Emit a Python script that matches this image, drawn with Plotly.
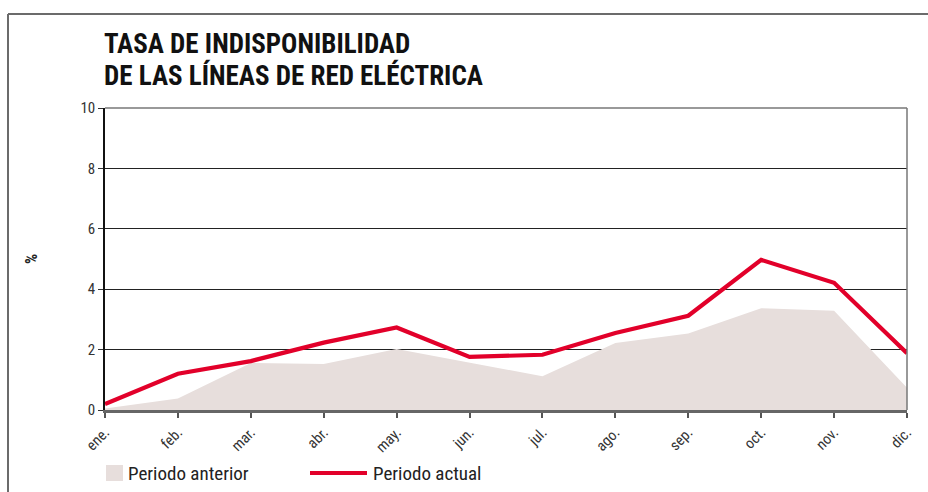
import plotly.graph_objects as go

# Monthly unavailability rate of Red Eléctrica lines (%)
meses = ["ene.", "feb.", "mar.", "abr.", "may.", "jun.",
         "jul.", "ago.", "sep.", "oct.", "nov.", "dic."]
periodo_anterior = [0.05, 0.38, 1.56, 1.52, 2.02, 1.56, 1.12, 2.22, 2.53, 3.37, 3.29, 0.74]
periodo_actual = [0.2, 1.2, 1.62, 2.23, 2.73, 1.76, 1.83, 2.55, 3.12, 4.97, 4.21, 1.88]
y_ticks = [0, 2, 4, 6, 8, 10]

W, H = 928, 492
L, R, T, B = 105, 21, 108, 82
PW, PH = W - L - R, H - T - B

NARROW = "Roboto Condensed, Liberation Sans Narrow, sans-serif"
RED = "#e2002a"
FILL = "#e7dedc"


def px_x(p):
    """Pixel column -> paper x."""
    return (p - L) / PW


def px_y(p):
    """Pixel row -> paper y."""
    return (H - B - p) / PH


x_idx = list(range(len(meses)))

fig = go.Figure()
fig.add_trace(go.Scatter(
    x=x_idx, y=periodo_anterior, mode="lines", fill="tozeroy",
    fillcolor=FILL, line=dict(width=0, color=FILL),
    name="Periodo anterior", showlegend=False, hoverinfo="skip"))
fig.add_trace(go.Scatter(
    x=x_idx, y=periodo_actual, mode="lines",
    line=dict(width=4.2, color=RED),
    name="Periodo actual", showlegend=False))

fig.update_layout(
    width=W, height=H,
    margin=dict(l=L, r=R, t=T, b=B),
    paper_bgcolor="white", plot_bgcolor="white",
    font=dict(family=NARROW, color="#222"),
    xaxis=dict(
        range=[0, len(meses) - 1], tickmode="array", tickvals=x_idx, ticktext=meses,
        tickangle=-45, tickfont=dict(size=15, color="#333"),
        showgrid=False, zeroline=False, showline=True, linecolor="#666", linewidth=2.5,
        ticks="outside", ticklen=5, tickcolor="#555", tickwidth=1.5),
    yaxis=dict(
        range=[0, 10], tickmode="array", tickvals=y_ticks,
        tickfont=dict(size=15, color="#333"),
        showgrid=True, gridcolor="#222", gridwidth=1.1, zeroline=False,
        showline=True, linecolor="#111", linewidth=1.5,
        ticks="outside", ticklen=5, tickcolor="#333", tickwidth=1.2),
)

shapes = [
    # top and right edges of the plotting frame
    dict(type="line", xref="paper", yref="paper", x0=0, x1=1, y0=1, y1=1,
         line=dict(color="#777", width=1.5)),
    dict(type="line", xref="paper", yref="paper", x0=1, x1=1, y0=0, y1=1,
         line=dict(color="#777", width=1.5)),
    # outer box lines
    dict(type="line", xref="paper", yref="paper", x0=px_x(8), x1=px_x(W + 2),
         y0=px_y(14), y1=px_y(14), line=dict(color="#6b6b6b", width=2)),
    dict(type="line", xref="paper", yref="paper", x0=px_x(8), x1=px_x(8),
         y0=px_y(14), y1=px_y(H + 2), line=dict(color="#6b6b6b", width=2)),
    # legend keys
    dict(type="rect", xref="paper", yref="paper", x0=px_x(106), x1=px_x(123),
         y0=px_y(481), y1=px_y(465), fillcolor=FILL, line=dict(width=0)),
    dict(type="line", xref="paper", yref="paper", x0=px_x(310), x1=px_x(367),
         y0=px_y(473), y1=px_y(473), line=dict(color=RED, width=4.2)),
]

annotations = [
    dict(text="<b>TASA DE INDISPONIBILIDAD</b>", x=px_x(103), y=px_y(61),
         xanchor="left", yanchor="bottom", font=dict(size=27, color="#111")),
    dict(text="<b>DE LAS LÍNEAS DE RED ELÉCTRICA</b>", x=px_x(103), y=px_y(93),
         xanchor="left", yanchor="bottom", font=dict(size=27, color="#111")),
    dict(text="<b>%</b>", x=px_x(31), y=px_y(259), textangle=-90,
         xanchor="center", yanchor="middle", font=dict(size=16, color="#222")),
    dict(text="Periodo anterior", x=px_x(127), y=px_y(473),
         xanchor="left", yanchor="middle", font=dict(size=19, color="#222")),
    dict(text="Periodo actual", x=px_x(372), y=px_y(473),
         xanchor="left", yanchor="middle", font=dict(size=19, color="#222")),
]
for a in annotations:
    a.update(xref="paper", yref="paper", showarrow=False, borderpad=0)

fig.update_layout(shapes=shapes, annotations=annotations)
fig.write_html("out.html")
